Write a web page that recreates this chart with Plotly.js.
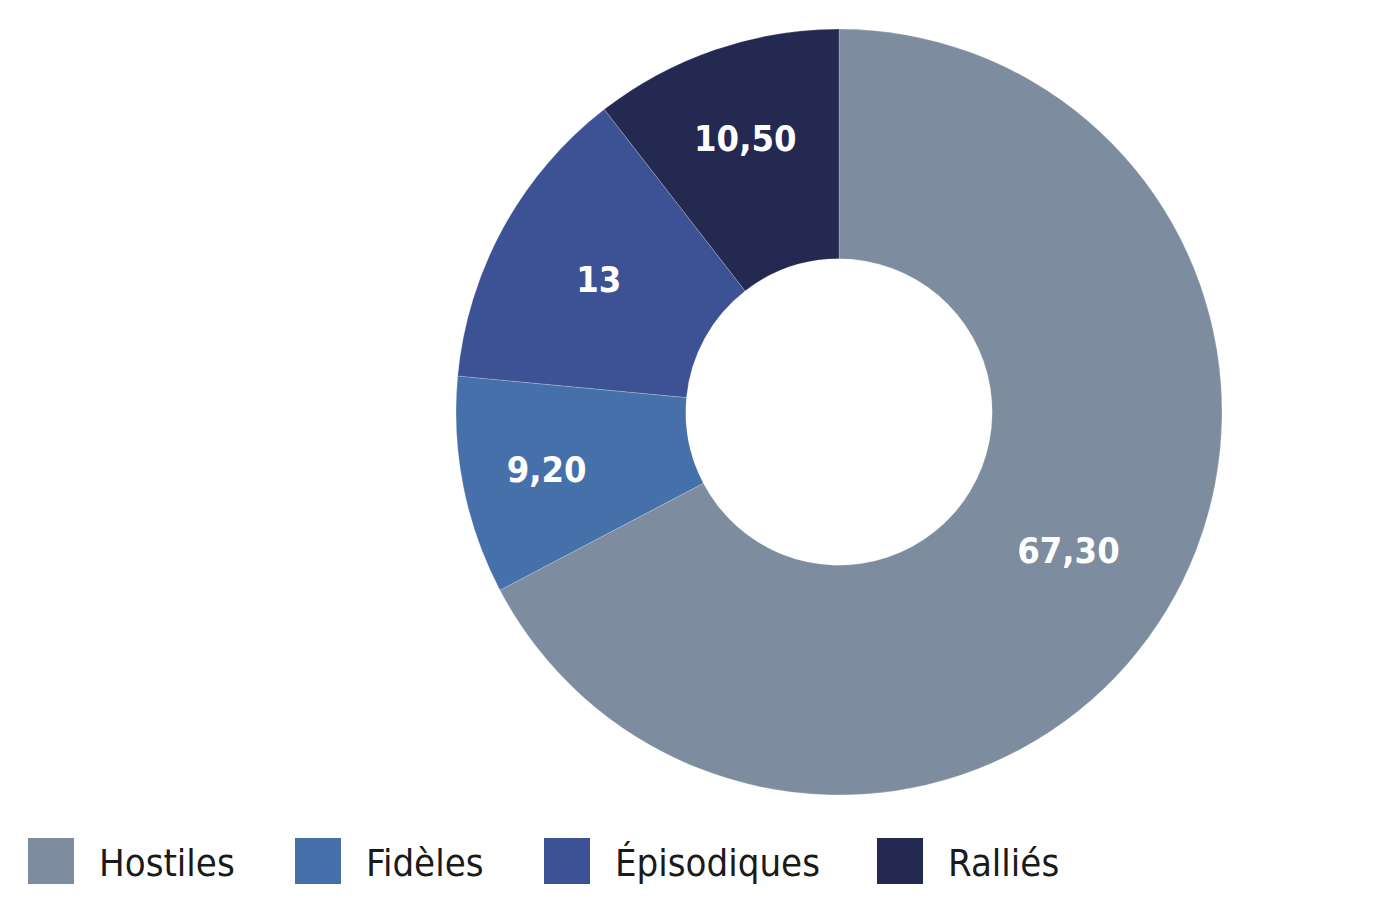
<!DOCTYPE html>
<html>
<head>
<meta charset="utf-8">
<script src="https://cdn.plot.ly/plotly-3.0.1.min.js"></script>
<style>html,body{margin:0;padding:0;background:#fff;}#chart{width:1392px;height:906px;}</style>
</head>
<body>
<div id="chart"></div>
<script>
// Data
const categories = ["Hostiles", "Fidèles", "Épisodiques", "Ralliés"];
const values = [67.30, 9.20, 13, 10.50];
const colors = ["#7d8c9e", "#4670aa", "#3c5294", "#232951"];

// Label formatting (French decimal comma)
const labelsText = values.map(v => Number.isInteger(v) ? String(v) : v.toFixed(2).replace('.', ','));

const W = 1392, H = 906;
const cx = 839, cy = 412, R = 383;

const trace = {
  type: 'pie',
  labels: categories,
  values: values,
  text: labelsText,
  texttemplate: '%{text}',
  textinfo: 'text',
  textposition: 'inside',
  insidetextorientation: 'horizontal',
  hole: 0.40,
  sort: false,
  direction: 'clockwise',
  rotation: 0,
  marker: {colors: colors, line: {color: 'rgba(255,255,255,0.35)', width: 0.6}},
  textfont: {family: '"DejaVu Sans Condensed", "DejaVu Sans", sans-serif', size: 36, color: '#ffffff', weight: 'bold'},
  domain: {x: [(cx - R) / W, (cx + R) / W], y: [(H - cy - R) / H, (H - cy + R) / H]},
  showlegend: false,
  hoverinfo: 'label+value'
};

// Custom legend with large squares
const legendX = [28, 295, 544, 877];
const sq = 46, legTop = 838;
const shapes = [], annotations = [];
categories.forEach((c, i) => {
  shapes.push({type: 'rect', xref: 'paper', yref: 'paper',
    x0: legendX[i] / W, x1: (legendX[i] + sq) / W,
    y0: (H - legTop - sq) / H, y1: (H - legTop) / H,
    fillcolor: colors[i], line: {width: 0}});
  annotations.push({xref: 'paper', yref: 'paper', x: (legendX[i] + 69) / W, y: (H - legTop - sq / 2 - 2) / H,
    xanchor: 'left', yanchor: 'middle', showarrow: false, text: c,
    font: {family: '"DejaVu Sans Condensed", "DejaVu Sans", sans-serif', size: 38, color: '#1a1a1a'}});
});

const layout = {
  width: W, height: H,
  margin: {l: 0, r: 0, t: 0, b: 0},
  paper_bgcolor: '#ffffff',
  plot_bgcolor: '#ffffff',
  shapes: shapes,
  annotations: annotations,
  showlegend: false
};

Plotly.newPlot('chart', [trace], layout, {displayModeBar: false, staticPlot: true});
</script>
</body>
</html>
